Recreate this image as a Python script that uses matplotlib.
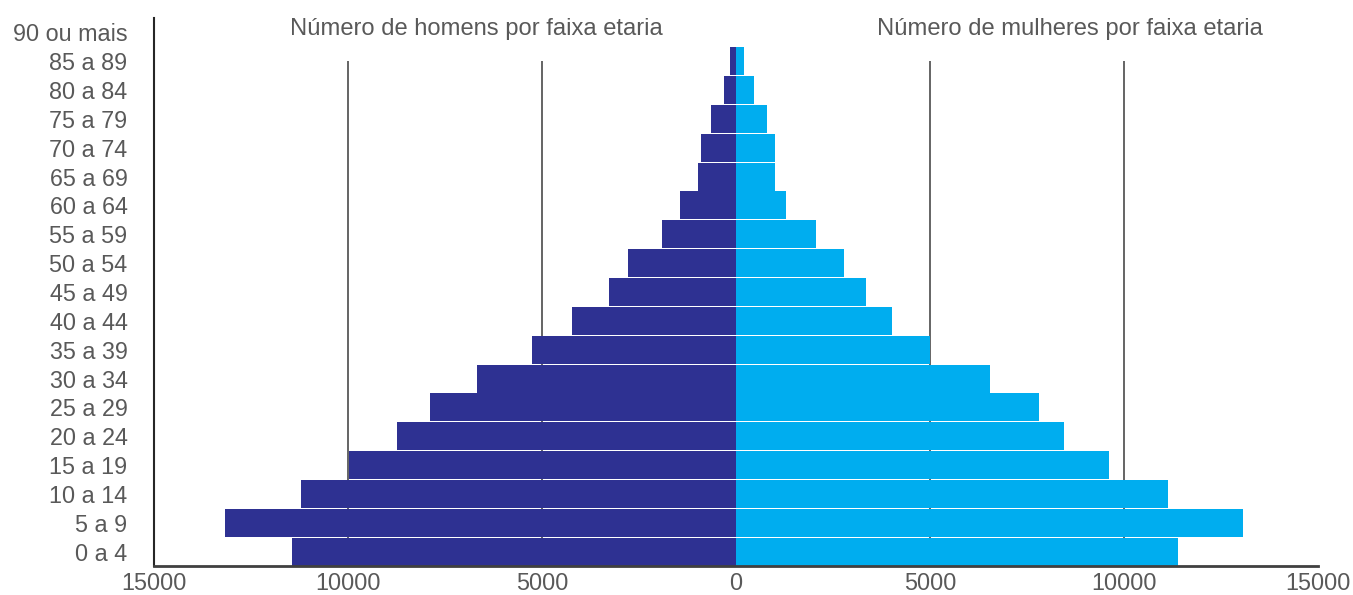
import matplotlib.pyplot as plt
import numpy as np

# age groups, bottom to top
faixas = ["0 a 4", "5 a 9", "10 a 14", "15 a 19", "20 a 24", "25 a 29",
          "30 a 34", "35 a 39", "40 a 44", "45 a 49", "50 a 54", "55 a 59",
          "60 a 64", "65 a 69", "70 a 74", "75 a 79", "80 a 84", "85 a 89",
          "90 ou mais"]
homens = [11437, 13161, 11200, 9985, 8728, 7899, 6684, 5265, 4232, 3283,
          2792, 1910, 1448, 986, 903, 645, 315, 157, 0]
mulheres = [11402, 13079, 11123, 9621, 8460, 7815, 6553, 5004, 4026, 3355,
            2787, 2065, 1290, 1006, 1006, 800, 465, 206, 0]
xticks = [-15000, -10000, -5000, 0, 5000, 10000, 15000]

plt.rcParams['font.family'] = ['Liberation Sans', 'DejaVu Sans']
cinza = '#595959'
fs = 16.8


def main():
    fig = plt.figure(figsize=(13.53, 5.95), dpi=100)
    ax = fig.add_axes([154 / 1353, 1 - 566 / 595, 1164 / 1353, 548 / 595])

    y = np.arange(len(faixas))

    # gridlines only at +-5000 / +-10000, stopping at the 85 a 89 row
    ax.vlines([-10000, -5000, 5000, 10000], -0.5, 17, colors='#3a3a3a',
              linewidth=1.1, zorder=1)

    ax.barh(y, -np.array(homens), height=0.97, color='#2E3192', zorder=2)
    ax.barh(y, mulheres, height=0.97, color='#00ADEF', zorder=2)

    ax.set_xlim(-15000, 15000)
    ax.set_ylim(-0.5, 18.5)
    ax.set_yticks(y)
    ax.set_yticklabels(faixas)
    ax.set_xticks(xticks)
    ax.set_xticklabels([str(abs(v)) for v in xticks])
    ax.tick_params(axis='y', length=0, pad=19, labelsize=fs, labelcolor=cinza)
    ax.tick_params(axis='x', length=0, pad=4, labelsize=fs, labelcolor=cinza)

    for s in ['top', 'right']:
        ax.spines[s].set_visible(False)
    ax.spines['left'].set_color('#262626')
    ax.spines['left'].set_linewidth(1.5)
    ax.spines['bottom'].set_color('#404040')
    ax.spines['bottom'].set_linewidth(2)

    ax.text(0.1168, 0.969, "Número de homens por faixa etaria",
            transform=ax.transAxes, ha='left', va='baseline',
            fontsize=17.1, color=cinza)
    ax.text(0.6211, 0.969, "Número de mulheres por faixa etaria",
            transform=ax.transAxes, ha='left', va='baseline',
            fontsize=17.1, color=cinza)

    plt.savefig('out.png', dpi=100)


if __name__ == '__main__':
    main()
